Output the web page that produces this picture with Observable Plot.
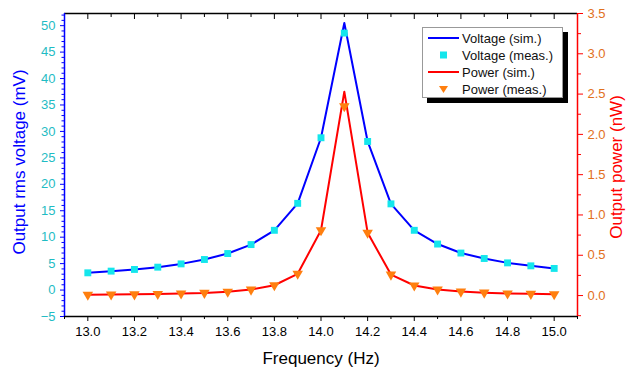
<!DOCTYPE html>
<html><head><meta charset="utf-8">
<script src="https://cdn.jsdelivr.net/npm/d3@7"></script>
<script src="https://cdn.jsdelivr.net/npm/@observablehq/plot@0.6"></script>
<style>
body{margin:0;background:#fff;font-family:"Liberation Sans",Arial,sans-serif}
#wrap{position:relative;width:630px;height:370px;overflow:hidden}
#legend{position:absolute;left:422px;top:27px;width:139px;height:69px;background:#fff;border:1px solid #999;box-shadow:5px 5px 0 #000}
</style></head><body>
<div id="wrap"></div>
<script>
// ---- data ----
const freq = [13.0,13.1,13.2,13.3,13.4,13.5,13.6,13.7,13.8,13.9,14.0,14.1,14.2,14.3,14.4,14.5,14.6,14.7,14.8,14.9,15.0];
const voltSim  = [3.26,3.58,3.9,4.33,4.95,5.78,6.91,8.6,11.3,16.4,28.8,50.5,28.1,16.3,11.3,8.7,7.0,5.97,5.14,4.58,4.09];
const voltMeas = [3.26,3.58,3.9,4.33,4.95,5.78,6.91,8.6,11.3,16.4,28.8,48.6,28.1,16.3,11.3,8.7,7.0,5.97,5.14,4.58,4.09];
const powerSim  = [0.011,0.013,0.015,0.019,0.025,0.033,0.048,0.074,0.128,0.27,0.81,2.53,0.78,0.26,0.125,0.075,0.049,0.036,0.026,0.021,0.017];
const powerMeas = [0.011,0.013,0.015,0.019,0.025,0.033,0.048,0.074,0.128,0.27,0.81,2.35,0.78,0.26,0.125,0.075,0.049,0.036,0.026,0.021,0.017];
const xTicks = [13.0,13.2,13.4,13.6,13.8,14.0,14.2,14.4,14.6,14.8,15.0];
const xMinor = [12.9,13.1,13.3,13.5,13.7,13.9,14.1,14.3,14.5,14.7,14.9,15.1];
const leftTicks = [-5,0,5,10,15,20,25,30,35,40,45,50];
const leftMinor = [-4,-3,-2,-1,1,2,3,4,6,7,8,9,11,12,13,14,16,17,18,19,21,22,23,24,26,27,28,29,31,32,33,34,36,37,38,39,41,42,43,44,46,47,48,49,51,52];
const rightTicks = [0,0.5,1.0,1.5,2.0,2.5,3.0,3.5];
const rightMinor = [-0.25,0.25,0.75,1.25,1.75,2.25,2.75,3.25];
const xDomain = [12.9, 15.1];
const yDomain = [-5, 52.3];
const pDomain = [-0.26, 3.5];

// ---- mapping right axis onto left scale ----
const p2v = p => yDomain[0] + (p - pDomain[0]) / (pDomain[1] - pDomain[0]) * (yDomain[1] - yDomain[0]);
const v2p = v => pDomain[0] + (v - yDomain[0]) / (yDomain[1] - yDomain[0]) * (pDomain[1] - pDomain[0]);

const rows = freq.map((f, i) => ({f, vs: voltSim[i], vm: voltMeas[i], ps: p2v(powerSim[i]), pm: p2v(powerMeas[i])}));

const BLUE = "#0000ff", RED = "#ff0000", CYAN = "#14e6ec", ORANGE = "#ff7f0f";
const LTXT = "#1fbcc4", RTXT = "#e2701c";

const chart = Plot.plot({
  width: 630, height: 370,
  marginLeft: 64, marginRight: 53, marginTop: 13, marginBottom: 54,
  x: {domain: xDomain},
  y: {domain: yDomain},
  style: {fontFamily: "'Liberation Sans', Arial, sans-serif", fontSize: "13px", background: "white", overflow: "visible"},
  marks: [
    // bottom axis
    Plot.axisX(xTicks, {anchor: "bottom", tickSize: 5, tickFormat: () => "", label: null}),
    Plot.axisX(xMinor, {anchor: "bottom", tickSize: 3, tickFormat: () => "", label: null}),
    Plot.axisX(xTicks, {anchor: "bottom", tickSize: 0, tickPadding: 10, tickFormat: d => d.toFixed(1), fontSize: 13, label: null}),
    // top axis (inward ticks)
    Plot.axisX(xTicks, {anchor: "top", tickSize: -5, tickFormat: () => "", label: null}),
    Plot.axisX(xMinor, {anchor: "top", tickSize: -3, tickFormat: () => "", label: null}),
    // left axis
    Plot.axisY(leftTicks, {anchor: "left", tickSize: 4, color: BLUE, tickFormat: () => "", label: null}),
    Plot.axisY(leftMinor, {anchor: "left", tickSize: 2.5, color: BLUE, tickFormat: () => "", label: null}),
    Plot.axisY(leftTicks, {anchor: "left", tickSize: 0, tickPadding: 9, color: LTXT, fontSize: 13, label: null}),
    // right axis
    Plot.axisY(rightTicks.map(p2v), {anchor: "right", tickSize: 5, color: RED, tickFormat: () => "", label: null}),
    Plot.axisY(rightMinor.map(p2v), {anchor: "right", tickSize: 3, color: RED, tickFormat: () => "", label: null}),
    Plot.axisY(rightTicks.map(p2v), {anchor: "right", tickSize: 0, tickPadding: 10, color: RTXT, fontSize: 13, tickFormat: v => v2p(v).toFixed(1), label: null}),
    // frame
    Plot.ruleY([yDomain[0]], {stroke: "black", strokeWidth: 1.5}),
    Plot.ruleY([yDomain[1]], {stroke: "black", strokeWidth: 1.5}),
    Plot.ruleX([xDomain[0]], {stroke: BLUE, strokeWidth: 1.5}),
    Plot.ruleX([xDomain[1]], {stroke: RED, strokeWidth: 1.5}),
    // series
    Plot.line(rows, {x: "f", y: "ps", stroke: RED, strokeWidth: 2}),
    Plot.line(rows, {x: "f", y: "vs", stroke: BLUE, strokeWidth: 2}),
    Plot.dot(rows, {x: "f", y: "pm", symbol: "triangle", r: 3.9, rotate: 180, fill: ORANGE, stroke: "none"}),
    Plot.dot(rows, {x: "f", y: "vm", symbol: "square", r: 3.9, fill: CYAN, stroke: "none"}),
    // titles
    Plot.text(["Frequency (Hz)"], {text: d => d, frameAnchor: "bottom", dy: 42, textAnchor: "middle", lineAnchor: "middle", fontSize: 17, fill: "black"}),
    Plot.text(["Output rms voltage (mV)"], {text: d => d, frameAnchor: "left", dx: -45, dy: -3, rotate: -90, textAnchor: "middle", lineAnchor: "middle", fontSize: 17, fill: BLUE}),
    Plot.text(["Output power (nW)"], {text: d => d, frameAnchor: "right", dx: 39, dy: 2, rotate: -90, textAnchor: "middle", lineAnchor: "middle", fontSize: 17, fill: RED})
  ]
});
const wrap = document.getElementById("wrap");
wrap.appendChild(chart);

// legend
const legendItems = [
  {label: "Voltage (sim.)", kind: "line", color: BLUE},
  {label: "Voltage (meas.)", kind: "square", color: CYAN},
  {label: "Power (sim.)", kind: "line", color: RED},
  {label: "Power (meas.)", kind: "tri", color: ORANGE}
];
const lg = document.createElement("div");
lg.id = "legend";
const ns = "http://www.w3.org/2000/svg";
const s = document.createElementNS(ns, "svg");
s.setAttribute("width", 139); s.setAttribute("height", 69);
legendItems.forEach((it, i) => {
  const cy = 10 + i * 17;
  if (it.kind === "line") {
    const l = document.createElementNS(ns, "line");
    l.setAttribute("x1", 5); l.setAttribute("x2", 36); l.setAttribute("y1", cy); l.setAttribute("y2", cy);
    l.setAttribute("stroke", it.color); l.setAttribute("stroke-width", 2);
    s.appendChild(l);
  } else if (it.kind === "square") {
    const r = document.createElementNS(ns, "rect");
    r.setAttribute("x", 17); r.setAttribute("y", cy - 3.5); r.setAttribute("width", 7); r.setAttribute("height", 7);
    r.setAttribute("fill", it.color);
    s.appendChild(r);
  } else {
    const p = document.createElementNS(ns, "path");
    p.setAttribute("d", `M${16},${cy - 3} L${25},${cy - 3} L${20.5},${cy + 4} Z`);
    p.setAttribute("fill", it.color);
    s.appendChild(p);
  }
  const t = document.createElementNS(ns, "text");
  t.setAttribute("x", 39); t.setAttribute("y", cy); t.setAttribute("dy", "0.35em");
  t.setAttribute("font-size", 13); t.setAttribute("fill", "#111");
  t.setAttribute("font-family", "'Liberation Sans', Arial, sans-serif");
  t.textContent = it.label;
  s.appendChild(t);
});
lg.appendChild(s);
wrap.appendChild(lg);
</script>
</body></html>
